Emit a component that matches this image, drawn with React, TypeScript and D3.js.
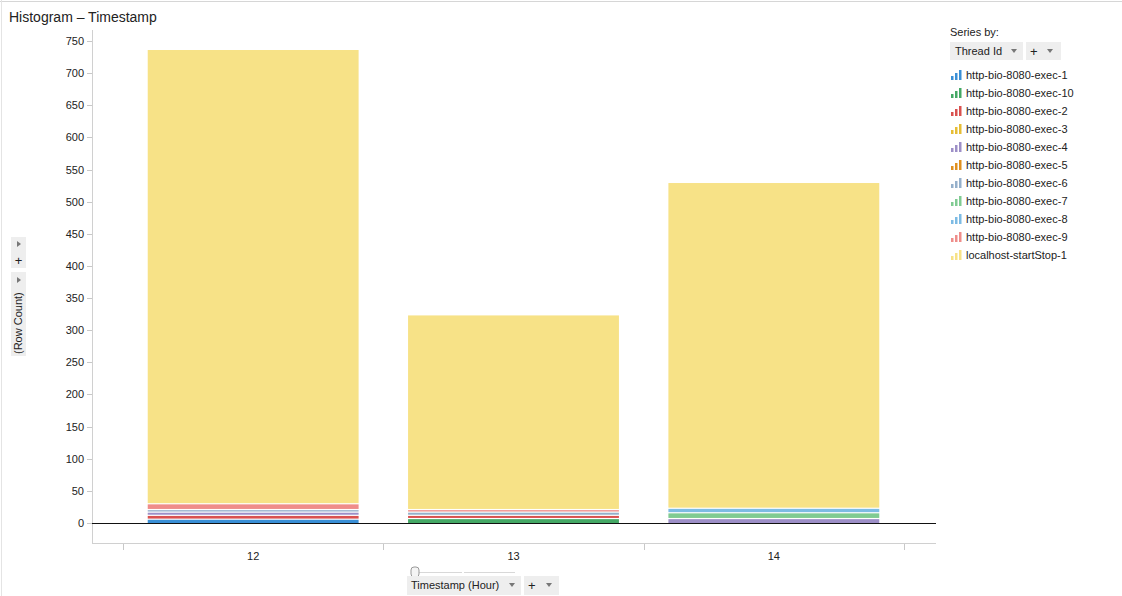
import React from "react";
import * as d3 from "d3";

const categories = ["12", "13", "14"];
const seriesNames = [
  "http-bio-8080-exec-1",
  "http-bio-8080-exec-10",
  "http-bio-8080-exec-2",
  "http-bio-8080-exec-3",
  "http-bio-8080-exec-4",
  "http-bio-8080-exec-5",
  "http-bio-8080-exec-6",
  "http-bio-8080-exec-7",
  "http-bio-8080-exec-8",
  "http-bio-8080-exec-9",
  "localhost-startStop-1",
];
const seriesColors = [
  "#3a8fd6",
  "#44a865",
  "#d9514f",
  "#e6bd35",
  "#9d8fc7",
  "#e0901f",
  "#95b0cb",
  "#80cb92",
  "#7dbbe4",
  "#ef8d8a",
  "#f7e287",
];
// values per series, in category order [12, 13, 14]
const exec1 = [5, 0, 0];
const exec10 = [0, 6, 0];
const exec2 = [6, 5, 0];
const exec3 = [0, 0, 0];
const exec4 = [5, 0, 6];
const exec5 = [0, 0, 0];
const exec6 = [4, 5, 0];
const exec7 = [0, 0, 9];
const exec8 = [0, 0, 7];
const exec9 = [9, 4, 0];
const localhost = [707, 303, 507];
const seriesValues = [exec1, exec10, exec2, exec3, exec4, exec5, exec6, exec7, exec8, exec9, localhost];
const yTicks = [0, 50, 100, 150, 200, 250, 300, 350, 400, 450, 500, 550, 600, 650, 700, 750];

const FONT = "Arial, 'Liberation Sans', sans-serif";

function LegendIcon({ x, y, color }: { x: number; y: number; color: string }) {
  return (
    <g>
      <rect x={x} y={y + 6} width={2.5} height={4} fill={color} />
      <rect x={x + 4} y={y + 3} width={2.5} height={7} fill={color} />
      <rect x={x + 8} y={y} width={2.5} height={10} fill={color} />
    </g>
  );
}

export default function App() {
  const W = 1122;
  const H = 596;
  const left = 92;
  const right = 936;
  const catX0 = 123;
  const catX1 = 904;
  const y = d3.scaleLinear().domain([0, 750]).range([523, 41]);
  const x = d3.scaleBand().domain(categories).range([catX0, catX1]).paddingInner(0.19).paddingOuter(0.095);

  const rows = categories.map((c, i) => {
    const r: any = { cat: c };
    seriesNames.forEach((s, j) => (r[s] = seriesValues[j][i]));
    return r;
  });
  const stacked = d3.stack<any>().keys(seriesNames)(rows);

  const boundaries = [0, 1, 2, 3].map((i) => catX0 + (i * (catX1 - catX0)) / 3);

  return (
    <svg width={W} height={H} style={{ position: "absolute", left: 0, top: 0, fontFamily: FONT }}>
      <rect x={0} y={0} width={W} height={H} fill="#fff" />
      <line x1={0} x2={W} y1={1.5} y2={1.5} stroke="#d6d6d6" />
      <line x1={1.5} x2={1.5} y1={0} y2={H} stroke="#e4e4e4" />
      <text x={9} y={22} fontSize={14} fill="#222">Histogram – Timestamp</text>

      {/* plot frame */}
      <line x1={left + 0.5} x2={left + 0.5} y1={30} y2={544} stroke="#d0d0d0" />
      <line x1={left} x2={right} y1={543.5} y2={543.5} stroke="#d0d0d0" />

      {/* y ticks */}
      {yTicks.map((t) => (
        <g key={t}>
          <line x1={left - 5} x2={left} y1={Math.round(y(t)) + 0.5} y2={Math.round(y(t)) + 0.5} stroke="#c8c8c8" />
          <text x={84} y={y(t) + 4} fontSize={11} textAnchor="end" fill="#222">{t}</text>
        </g>
      ))}

      {/* x tick boundaries */}
      {boundaries.map((b, i) => (
        <line key={i} x1={Math.round(b) + 0.5} x2={Math.round(b) + 0.5} y1={544} y2={550} stroke="#c8c8c8" />
      ))}
      {categories.map((c) => (
        <text key={c} x={(x(c) as number) + x.bandwidth() / 2} y={560} fontSize={11} textAnchor="middle" fill="#222">{c}</text>
      ))}

      {/* bars */}
      {stacked.map((layer, j) => (
        <g key={seriesNames[j]} fill={seriesColors[j]}>
          {layer.map((d, i) => {
            const h = y(d[0]) - y(d[1]);
            if (h <= 0) return null;
            const gap = d[0] === 0 ? 0 : 1.2;
            return (
              <rect
                key={i}
                x={x(categories[i]) as number}
                y={y(d[1])}
                width={x.bandwidth()}
                height={Math.max(0, h - gap)}
              />
            );
          })}
        </g>
      ))}

      {/* zero line */}
      <line x1={left} x2={right} y1={523.5} y2={523.5} stroke="#111" strokeWidth={1.2} />

      {/* left axis controls */}
      <rect x={11} y={237} width={15} height={31} fill="#eeeeee" />
      <path d="M17,241 L21,244 L17,247 Z" fill="#777" />
      <text x={18.5} y={265} fontSize={13} textAnchor="middle" fill="#222">+</text>
      <rect x={11} y={272} width={15} height={84} fill="#eeeeee" />
      <path d="M17,277 L21,280 L17,283 Z" fill="#777" />
      <text transform="translate(22,354) rotate(-90)" fontSize={11} fill="#222">(Row Count)</text>

      {/* bottom axis controls */}
      <line x1={415} x2={462} y1={572.5} y2={572.5} stroke="#d8d8d8" />
      <line x1={464} x2={515} y1={572.5} y2={572.5} stroke="#d8d8d8" />
      <rect x={411} y={567} width={8} height={10} rx={3} fill="#f4f4f4" stroke="#999" />
      <rect x={407} y={576} width={114} height={19} fill="#eeeeee" />
      <text x={411} y={589} fontSize={11} fill="#222">Timestamp (Hour)</text>
      <path d="M509,583 L515,583 L512,587 Z" fill="#777" />
      <rect x={524} y={576} width={35} height={19} fill="#eeeeee" />
      <text x={528} y={590} fontSize={13} fill="#222">+</text>
      <path d="M546,583 L552,583 L549,587 Z" fill="#777" />

      {/* legend */}
      <text x={950} y={36} fontSize={11} fill="#222">Series by:</text>
      <rect x={950} y={42} width={73} height={18} fill="#eeeeee" />
      <text x={955} y={55} fontSize={11} fill="#222">Thread Id</text>
      <path d="M1011,49 L1017,49 L1014,53 Z" fill="#777" />
      <rect x={1026} y={42} width={35} height={18} fill="#eeeeee" />
      <text x={1030} y={56} fontSize={13} fill="#222">+</text>
      <path d="M1047,49 L1053,49 L1050,53 Z" fill="#777" />
      {seriesNames.map((s, i) => (
        <g key={s}>
          <LegendIcon x={951} y={70 + i * 18} color={seriesColors[i]} />
          <text x={966} y={79 + i * 18} fontSize={11} fill="#222">{s}</text>
        </g>
      ))}
    </svg>
  );
}
